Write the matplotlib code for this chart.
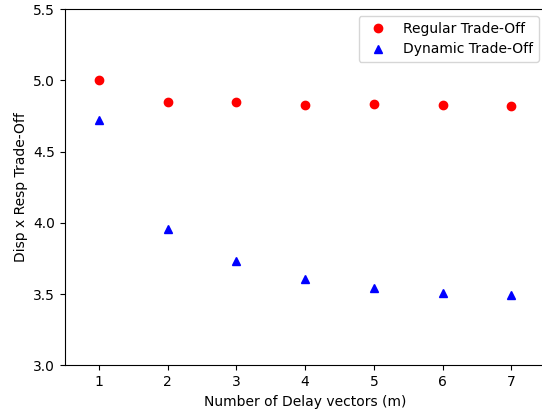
import matplotlib
matplotlib.use('Agg')
import matplotlib.pyplot as plt

m = [1, 2, 3, 4, 5, 6, 7]
regular = [5.00, 4.85, 4.85, 4.825, 4.83, 4.825, 4.82]
dynamic = [4.72, 3.955, 3.735, 3.605, 3.545, 3.51, 3.49]

fig = plt.figure(figsize=(5.42, 4.11), dpi=100)
# the original figure is cropped on the right, so the axes run past the edge
ax = fig.add_axes([0.1194, 0.1112, 0.8873, 0.8669])

ax.plot(m, regular, 'ro', label='Regular Trade-Off')
ax.plot(m, dynamic, 'b^', label='Dynamic Trade-Off')

ax.set_xlim(0.5, 7.5)
ax.set_ylim(3.0, 5.5)
ax.set_xticks(m)
ax.set_xlabel('Number of Delay vectors (m)')
ax.set_ylabel('Disp x Resp Trade-Off')
ax.spines['right'].set_visible(False)
ax.legend(loc='upper right')

fig.savefig('out.png', dpi=100)
